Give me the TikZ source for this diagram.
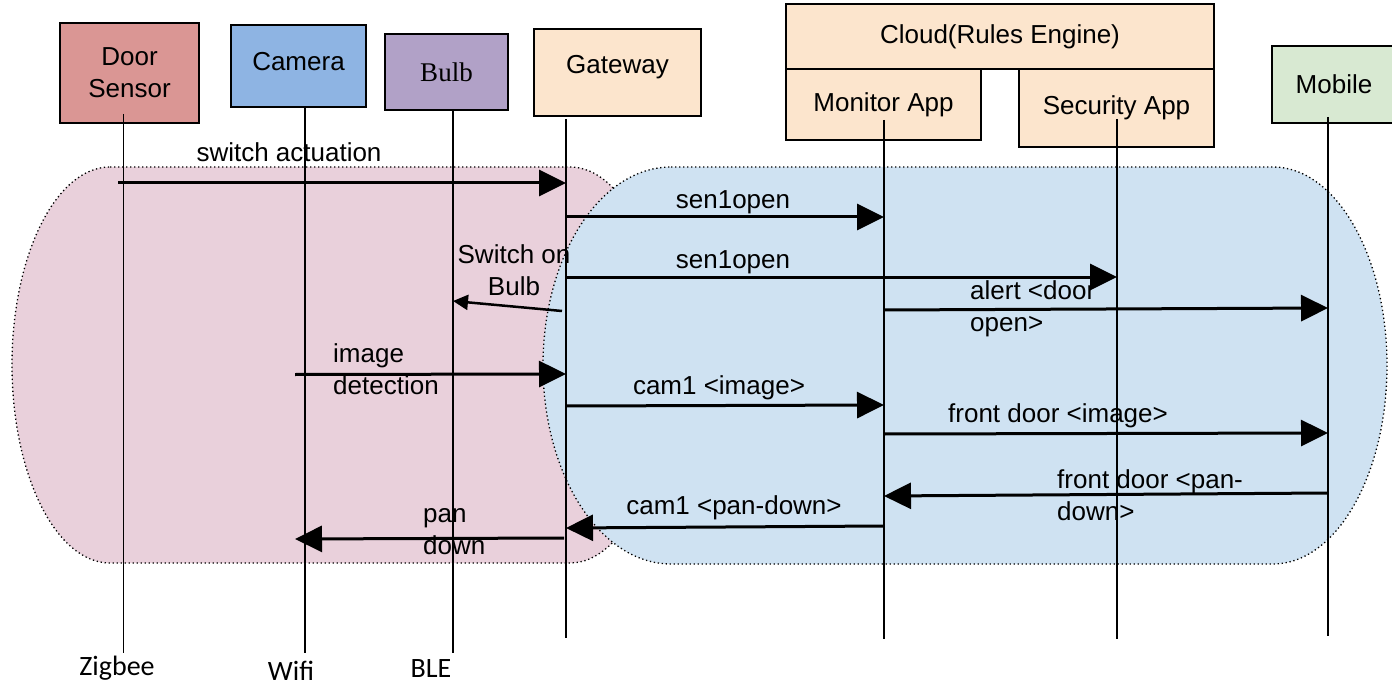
\documentclass[tikz,border=0pt]{standalone}
\usepackage{fontspec}
\setmainfont{Liberation Sans}
\newfontfamily\bulbfont{Liberation Serif}
\newfontfamily\radiofont{Carlito}
\usepackage{tikz}
\usetikzlibrary{arrows.meta}
\definecolor{doorred}{HTML}{DA9694}
\definecolor{camblue}{HTML}{8EB4E3}
\definecolor{bulbpurple}{HTML}{B1A1C7}
\definecolor{peach}{HTML}{FCE5CD}
\definecolor{mobgreen}{HTML}{D8E9D2}
\definecolor{zonepink}{HTML}{E9D0DB}
\definecolor{zoneblue}{HTML}{CFE2F2}
\tikzset{>/.tip={Triangle[length=27pt,width=26pt]},
  actor/.style={draw,line width=1.6pt,inner sep=0pt,align=center,font=\fontsize{26}{32}\selectfont},
  life/.style={line width=1.6pt},
  msg/.style={->,line width=3pt},
  lbl/.style={inner sep=0pt,font=\fontsize{26}{32}\selectfont},
  radio/.style={inner sep=0pt,anchor=base,font=\radiofont\fontsize{28}{32}\selectfont},
  zone/.style={draw,line width=1.3pt,dash pattern=on 1.3pt off 2.7pt}}

\begin{document}
\begin{tikzpicture}[x=1pt,y=-1pt]
\useasboundingbox (0,0) rectangle (1392,687);

% the two network zones
\path[zone,fill=zonepink] (110,167) -- (570,167)
  arc[start angle=-90,end angle=90,x radius=96,y radius=198] -- (110,563)
  arc[start angle=90,end angle=270,x radius=98,y radius=198] -- cycle;
\path[zone,fill=zoneblue] (671,167) -- (1273,167)
  arc[start angle=-90,end angle=90,x radius=114,y radius=198.5] -- (671,564)
  arc[start angle=90,end angle=270,x radius=128,y radius=198.5] -- cycle;

% participants
\node[actor,fill=doorred,minimum width=139pt,minimum height=100pt] (door) at (129.5,73) {Door\\Sensor};
\node[actor,fill=camblue,minimum width=135pt,minimum height=82pt,text depth=10pt] (camera) at (298.5,66) {Camera};
\node[actor,fill=bulbpurple,minimum width=123pt,minimum height=76pt,font=\bulbfont\fontsize{27}{32}\selectfont] (bulb) at (446.5,72) {Bulb};
\node[actor,fill=peach,minimum width=167pt,minimum height=87pt,text depth=17pt] (gateway) at (617.5,72.5) {Gateway};
\node[actor,fill=peach,minimum width=428pt,minimum height=65pt] (cloud) at (1000,36.5) {Cloud(Rules Engine)};
\node[actor,fill=peach,minimum width=195pt,minimum height=71pt] (monitor) at (883.5,104.5) {Monitor App};
\node[actor,fill=peach,minimum width=195pt,minimum height=78pt] (security) at (1116.5,108) {Security App};
\node[actor,fill=mobgreen,minimum width=124pt,minimum height=77pt] (mobile) at (1334,84.5) {Mobile};

% lifelines
\coordinate (door-top) at (123.5,114);   \coordinate (door-end) at (123.5,653);
\coordinate (cam-top) at (305,107);      \coordinate (cam-end) at (305,653);
\coordinate (bulb-top) at (453,110);     \coordinate (bulb-end) at (453,653);
\coordinate (gw-top) at (566,119);       \coordinate (gw-end) at (566,638);
\coordinate (mon-top) at (884,120);      \coordinate (mon-end) at (884,639);
\coordinate (sec-top) at (1117,119);     \coordinate (sec-end) at (1117,639);
\coordinate (mob-top) at (1328,117);     \coordinate (mob-end) at (1328,636);
\foreach \p in {door,cam,bulb,gw,mon,sec,mob}
  \draw[life] (\p-top) -- (\p-end);

% message ends
\coordinate (sw-a) at (118,183);    \coordinate (sw-b) at (566,183);
\coordinate (sen-a) at (566,217);   \coordinate (sen-b) at (884,217);
\coordinate (sec-a) at (566,277);   \coordinate (sec-b) at (1117,277);
\coordinate (on-a) at (562,311);    \coordinate (on-b) at (453,301);
\coordinate (al-a) at (884,310);    \coordinate (al-b) at (1328,308);
\coordinate (img-a) at (295,374.5); \coordinate (img-b) at (566,374);
\coordinate (ci-a) at (566,406);    \coordinate (ci-b) at (884,405);
\coordinate (fi-a) at (884,434);    \coordinate (fi-b) at (1328,433);
\coordinate (fp-a) at (1328,493);   \coordinate (fp-b) at (884,496);
\coordinate (cp-a) at (884,526);    \coordinate (cp-b) at (566,528);
\coordinate (pd-a) at (564,538);    \coordinate (pd-b) at (295,539);

\draw[msg] (sw-a) -- (sw-b);
\draw[msg] (sen-a) -- (sen-b);
\draw[msg] (sec-a) -- (sec-b);
\draw[->,line width=2.5pt,>={Triangle[length=15pt,width=15pt]}] (on-a) -- (on-b);
\draw[msg] (al-a) -- (al-b);
\draw[msg] (img-a) -- (img-b);
\draw[msg] (ci-a) -- (ci-b);
\draw[msg] (fi-a) -- (fi-b);
\draw[msg] (fp-a) -- (fp-b);
\draw[msg] (cp-a) -- (cp-b);
\draw[msg] (pd-a) -- (pd-b);

% message labels (base = last line)
\node[lbl,anchor=base] (sw-l) at (289,162) {switch actuation};
\node[lbl,anchor=base] (sen-l) at (733,208) {sen1open};
\node[lbl,anchor=base] (sec-l) at (733,269) {sen1open};
\node[lbl,anchor=base,align=center] (on-l) at (514,295) {Switch on\\Bulb};
\node[lbl,anchor=base west,align=left] (al-l) at (970,331) {alert <door\\open>};
\node[lbl,anchor=base west,align=left] (img-l) at (333,394) {image\\detection};
\node[lbl,anchor=base] (ci-l) at (719,394) {cam1 <image>};
\node[lbl,anchor=base] (fi-l) at (1058,422) {front door <image>};
\node[lbl,anchor=base west,align=left] (fp-l) at (1057,520) {front door <pan-\\down>};
\node[lbl,anchor=base] (cp-l) at (734,514) {cam1 <pan-down>};
\node[lbl,anchor=base west,align=left] (pd-l) at (423,554) {pan\\down};

% radio under each device
\node[radio] (zigbee) at (117,675) {Zigbee};
\node[radio] (wifi) at (291,680) {Wifi};
\node[radio] (ble) at (431,677) {BLE};
\end{tikzpicture}
\end{document}
